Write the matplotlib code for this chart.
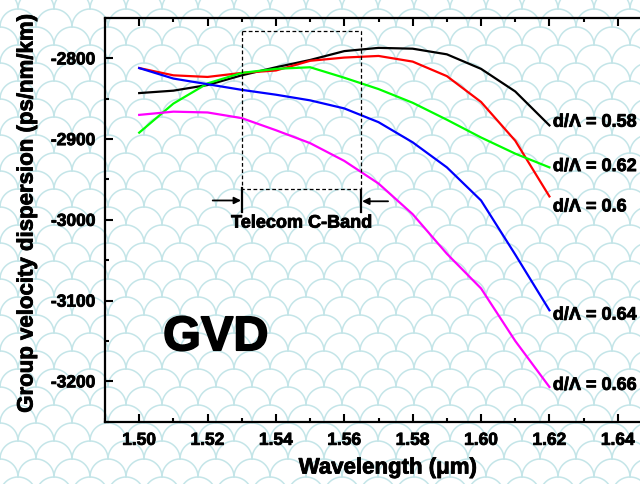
import numpy as np
import matplotlib
matplotlib.use("Agg")
import matplotlib.pyplot as plt
import matplotlib.patheffects as pe
from matplotlib.ticker import MultipleLocator, FormatStrFormatter

plt.rcParams['font.family'] = ['Liberation Sans', 'DejaVu Sans']
plt.rcParams['font.weight'] = 'bold'
plt.rcParams['axes.unicode_minus'] = False

wavelength = [1.50, 1.51, 1.52, 1.53, 1.54, 1.55, 1.56, 1.57, 1.58, 1.59, 1.60, 1.61, 1.62]
gvd_058 = [-2843, -2840, -2833, -2821, -2811, -2802, -2791, -2787, -2788, -2795, -2813, -2841, -2883]
gvd_060 = [-2812, -2821, -2823, -2818, -2815, -2803, -2799, -2797, -2804, -2822, -2854, -2902, -2971]
gvd_062 = [-2892, -2856, -2831, -2818, -2813, -2811, -2824, -2838, -2855, -2876, -2898, -2918, -2935]
gvd_064 = [-2812, -2825, -2832, -2839, -2845, -2852, -2862, -2879, -2904, -2935, -2976, -3043, -3112]
gvd_066 = [-2870, -2866, -2867, -2874, -2889, -2905, -2927, -2955, -2993, -3042, -3085, -3150, -3207]

series = [
    (gvd_058, 'black', 'd/\u039b = 0.58', -2879),
    (gvd_060, '#ff0000', 'd/\u039b = 0.6', -2984),
    (gvd_062, '#00ff00', 'd/\u039b = 0.62', -2934),
    (gvd_064, '#0000ff', 'd/\u039b = 0.64', -3118),
    (gvd_066, '#ff00ff', 'd/\u039b = 0.66', -3205),
]

heavy = [pe.withStroke(linewidth=0.6, foreground='black')]

fig = plt.figure(figsize=(6.4, 4.84), dpi=100)
fig.patch.set_facecolor('white')

# decorative background pattern (fish-scale)
bg = fig.add_axes([0, 0, 1, 1], zorder=-10)
bg.set_xlim(0, 640)
bg.set_ylim(484, 0)
bg.axis('off')
t = np.linspace(np.pi, 2 * np.pi, 30)
r = 18
for j in range(-1, 30):
    yc = j * 18
    off = (j % 2) * 18
    for i in range(-1, 20):
        xc = i * 36 + off
        bg.plot(xc + r * np.cos(t), yc + r * np.sin(t) + 9, color='#c4e5e8', lw=1.1,
                solid_capstyle='round')

ax = fig.add_axes([105 / 640, 1 - 421.7 / 484, 547 / 640, (421.7 - 18) / 484])
ax.set_facecolor('none')

for vals, col, lab, ly in series:
    ax.plot(wavelength, vals, color=col, lw=1.6)
    ax.text(1.621, ly, lab, fontsize=13, fontweight='bold', ha='left', va='center',
            path_effects=heavy)

ax.set_xlim(1.49, 1.65)
ax.set_ylim(-3250, -2750)
ax.xaxis.set_major_locator(MultipleLocator(0.02))
ax.xaxis.set_minor_locator(MultipleLocator(0.01))
ax.yaxis.set_major_locator(MultipleLocator(100))
ax.yaxis.set_minor_locator(MultipleLocator(50))
ax.xaxis.set_major_formatter(FormatStrFormatter('%.2f'))
ax.tick_params(which='both', direction='in', top=True, right=True, width=1.5)
ax.tick_params(which='major', length=6, labelsize=12.5)
ax.tick_params(axis='y', which='major', pad=7)
ax.tick_params(axis='x', which='major', pad=8)
ax.tick_params(which='minor', length=3)
for lbl in ax.get_xticklabels() + ax.get_yticklabels():
    lbl.set_fontweight('bold')
    lbl.set_path_effects(heavy)
for sp in ax.spines.values():
    sp.set_linewidth(1.6)

ax.set_xlabel('Wavelength (\u03bcm)', fontsize=16, fontweight='bold')
ax.set_ylabel('Group velocity dispersion (ps/nm/km)', fontsize=16, fontweight='bold')
ax.xaxis.label.set_va('center')
ax.yaxis.label.set_va('center')
ax.xaxis.label.set_path_effects(heavy)
ax.yaxis.label.set_path_effects(heavy)
ax.xaxis.set_label_coords((387.7 - 105) / 547, (421.7 - 468) / 403.7)
ax.yaxis.set_label_coords((27 - 105) / 547, (421.7 - 214) / 403.7)

# telecom C-band box
ax.plot([1.53, 1.565, 1.565, 1.53, 1.53], [-2766, -2766, -2962, -2962, -2766],
        color='black', lw=0.9, ls=(0, (3, 2)))
ax.plot([1.53, 1.53], [-2961, -2990], color='black', lw=1.6)
ax.plot([1.565, 1.565], [-2963, -2990], color='black', lw=1.6)
ax.annotate('', xy=(1.5298, -2976), xytext=(1.5215, -2976),
            arrowprops=dict(arrowstyle='-|>', color='black', lw=1.3, mutation_scale=10,
                            shrinkA=0, shrinkB=0))
ax.annotate('', xy=(1.5652, -2977), xytext=(1.5728, -2977),
            arrowprops=dict(arrowstyle='-|>', color='black', lw=1.3, mutation_scale=10,
                            shrinkA=0, shrinkB=0))
ax.text(1.5475, -3004, 'Telecom C-Band', fontsize=13, fontweight='bold', ha='center', va='center',
        path_effects=heavy)

ax.text(1.507, -3146, 'GVD', fontsize=35, fontweight='bold', ha='left', va='center',
        path_effects=[pe.withStroke(linewidth=1.2, foreground='black')])

fig.savefig('out.png', dpi=100)
